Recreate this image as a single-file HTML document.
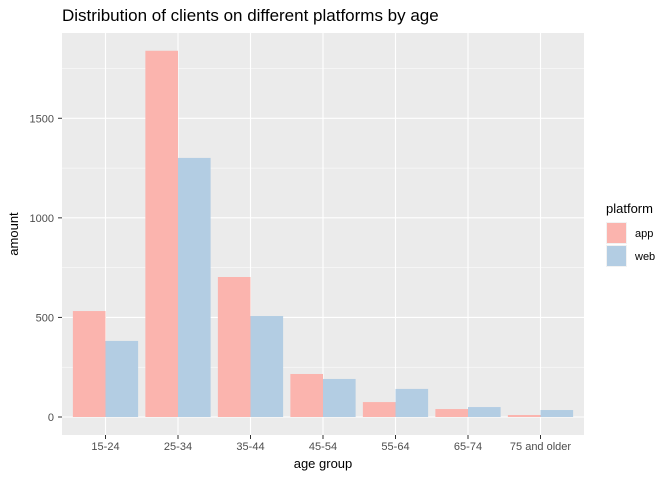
<!DOCTYPE html>
<html><head><meta charset="utf-8"><style>
body{margin:0;background:#fff;font-family:"Liberation Sans",sans-serif}
</style></head><body>
<svg width="672" height="480" xmlns="http://www.w3.org/2000/svg">
<text x="62" y="21" font-size="17" fill="#000">Distribution of clients on different platforms by age</text>
<rect x="62" y="33" width="522" height="402" fill="#ebebeb"/>
<g id="grid"></g><g id="bars"></g><g id="axes"></g>
<text x="323" y="468" font-size="13" text-anchor="middle">age group</text>
<text transform="translate(18,234) rotate(-90)" font-size="13" text-anchor="middle">amount</text>
<text x="606" y="213" font-size="13">platform</text>
<rect x="606" y="222" width="21" height="22" fill="#f2f2f2"/>
<rect x="607" y="223" width="19" height="20" fill="#fbb4ae"/>
<text x="635" y="237" font-size="11">app</text>
<rect x="606" y="245" width="21" height="22" fill="#f2f2f2"/>
<rect x="607" y="246" width="19" height="20" fill="#b3cde3"/>
<text x="635" y="260" font-size="11">web</text>
</svg>
<script>
const categories=["15-24","25-34","35-44","45-54","55-64","65-74","75 and older"];
const appValues=[532,1839,703,216,75,40,10];
const webValues=[382,1301,507,191,141,50,35];
const yTicks=[0,500,1000,1500];
const NS="http://www.w3.org/2000/svg";
const x0=62,pw=522,unit=pw/(categories.length+0.2);
function xc(i){return x0+(i+0.6)*unit;}
function y(v){return 417-v*0.19915;}
function mk(p,tag,a){const e=document.createElementNS(NS,tag);for(const k in a)e.setAttribute(k,a[k]);p.appendChild(e);return e;}
const grid=document.getElementById('grid'),bars=document.getElementById('bars'),axes=document.getElementById('axes');
for(let i=0;i<yTicks.length;i++){
 const t=yTicks[i];
 const l=mk(grid,'line',{x1:62,x2:584,y1:y(t),y2:y(t),stroke:'#fff','stroke-width':1.1});
 
 
 const m=mk(grid,'line',{x1:62,x2:584,y1:y(t+250),y2:y(t+250),stroke:'#fff','stroke-width':0.5});
 
 
 const tx=mk(axes,'text',{x:54,y:y(t)+4,'font-size':11,fill:'#4d4d4d','text-anchor':'end'});tx.textContent=t;
 
 
 const tk=mk(axes,'line',{x1:58,x2:62,y1:y(t),y2:y(t),stroke:'#333'});
 
 
}
const bw=unit*0.45;
categories.forEach((c,i)=>{
 const cx=xc(i);
 const g=mk(grid,'line',{x1:cx,x2:cx,y1:33,y2:435,stroke:'#fff','stroke-width':1.1});
 
 
 const a=mk(bars,'rect',{x:cx-bw,y:y(appValues[i]),width:bw,height:417-y(appValues[i]),fill:'#fbb4ae'});
 
 
 const w=mk(bars,'rect',{x:cx,y:y(webValues[i]),width:bw,height:417-y(webValues[i]),fill:'#b3cde3'});
 
 
 const tk=mk(axes,'line',{x1:cx,x2:cx,y1:435,y2:439,stroke:'#333'});
 
 
 const t=mk(axes,'text',{x:cx,y:450,'font-size':11,fill:'#4d4d4d','text-anchor':'middle'});t.textContent=c;
 
 
});
</script>
</body></html>
